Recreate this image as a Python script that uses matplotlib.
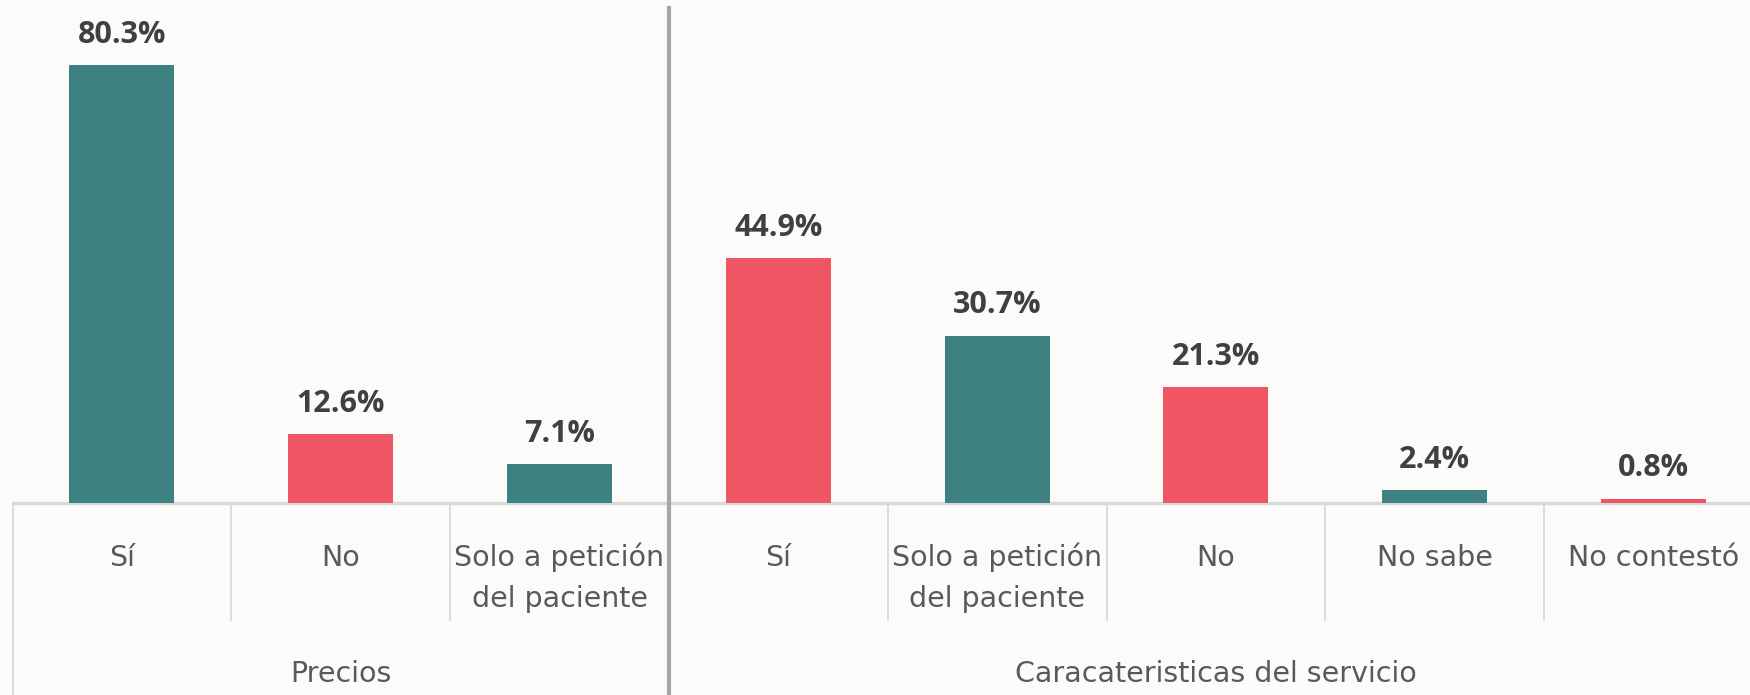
import numpy as np
import matplotlib.pyplot as plt
from matplotlib.transforms import blended_transform_factory

# Data
groups = ["Precios", "Caracateristicas del servicio"]
group_sizes = [3, 5]
categories = ["Sí", "No", "Solo a petición\ndel paciente",
              "Sí", "Solo a petición\ndel paciente", "No", "No sabe", "No contestó"]
values = [80.3, 12.6, 7.1, 44.9, 30.7, 21.3, 2.4, 0.8]

teal = "#3d8280"
red = "#f05563"
colors = [teal, red] * 4

W, H = 1750, 695
fig = plt.figure(figsize=(W / 100, H / 100), dpi=100)
fig.patch.set_facecolor("#fcfbf9")

ax = fig.add_axes([12.5 / W, 192 / H, 1750.4 / W, 491 / H])
ax.set_facecolor("none")
x = np.arange(len(values))
ax.bar(x, values, width=0.48, color=colors, zorder=3)
ax.set_xlim(-0.5, len(values) - 0.5)
ax.set_ylim(0, 90)
ax.axis("off")

# value labels
for xi, v in zip(x, values):
    ax.annotate(f"{v}%", (xi, v), xytext=(0, 16), textcoords="offset points",
                ha="center", va="baseline", fontsize=22, fontweight="bold",
                color="#404040", family="Open Sans")

# axis line
ax.axhline(0, color="#d9d9d9", lw=2.5, clip_on=False, zorder=2)

trans = blended_transform_factory(ax.transData, fig.transFigure)
y_base = 192 / H

# separators between categories
bounds = np.cumsum([0] + group_sizes) - 0.5
for b in np.arange(-0.5, len(values)):
    if b in bounds:
        continue
    ax.plot([b, b], [y_base, 75 / H], color="#d9d9d9", lw=1.3,
            transform=trans, clip_on=False)
for b in bounds:
    if b == bounds[1]:
        ax.plot([b, b], [0, 687 / H], color="#a6a6a6", lw=3,
                transform=trans, clip_on=False, zorder=4)
    else:
        ax.plot([b, b], [0, y_base], color="#d9d9d9", lw=1.3,
                transform=trans, clip_on=False)

# category labels
for xi, lab in zip(x, categories):
    for k, line in enumerate(lab.split("\n")):
        ax.text(xi, (129 - 41 * k) / H, line, transform=trans, ha="center",
                va="baseline", fontsize=20.5, color="#595959", family="DejaVu Sans")

# group labels
for g, lo, hi in zip(groups, bounds[:-1], bounds[1:]):
    ax.text((lo + hi) / 2, 12.5 / H, g, transform=trans, ha="center",
            va="baseline", fontsize=20.5, color="#595959", family="DejaVu Sans")

fig.savefig("out.png", dpi=100, facecolor=fig.get_facecolor())
